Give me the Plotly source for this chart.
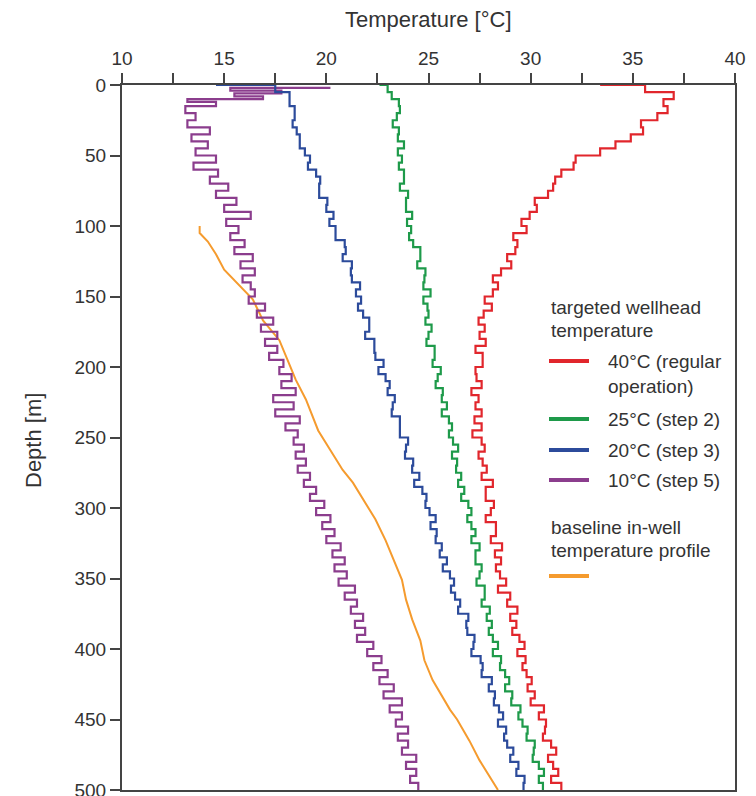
import plotly.graph_objects as go

# ---------------- data ----------------
DEPTH = list(range(0, 505, 5))  # sampling depths [m]

T_40 = [33.4, 35.6, 37.0, 36.5, 36.7, 36.2, 35.4, 35.5, 34.9, 34.15,
        33.4, 32.2, 32.1, 31.5, 31.2, 31.1, 30.85, 30.2, 30.3, 29.95,
        29.55, 29.8, 29.15, 29.35, 29.25, 28.85, 29.05, 28.55, 28.15, 28.4,
        28.15, 27.75, 28.1, 27.7, 27.45, 27.75, 27.5, 27.8, 27.3, 27.65,
        27.65, 27.3, 27.35, 27.6, 27.1, 27.45, 27.3, 27.6, 27.25, 27.6,
        27.15, 27.6, 27.75, 27.45, 27.65, 27.85, 27.6, 28.15, 27.8, 27.8,
        28.2, 28.05, 27.8, 28.3, 28.3, 28.05, 28.6, 28.25, 28.55, 28.3,
        28.5, 28.8, 28.4, 29.0, 28.85, 29.35, 29.0, 29.3, 29.1, 29.45,
        29.7, 29.35, 29.75, 29.6, 29.8, 30.05, 29.85, 30.2, 30.0, 30.65,
        30.4, 30.75, 30.7, 30.6, 31.0, 31.25, 30.85, 31.1, 31.35, 31.0,
        31.5]

T_25 = [22.6, 23.0, 23.2, 23.55, 23.6, 23.45, 23.25, 23.55, 23.5, 23.8,
        23.5, 23.7, 23.55, 23.8, 23.8, 23.6, 24.0, 23.9, 23.9, 24.2,
        23.95, 24.15, 24.05, 24.25, 24.6, 24.6, 24.45, 24.85, 24.8, 24.75,
        25.1, 24.75, 24.95, 25.0, 24.85, 25.15, 25.0, 24.9, 25.3, 25.3,
        25.2, 25.6, 25.45, 25.35, 25.7, 25.65, 25.9, 25.65, 26.0, 26.15,
        26.0, 26.2, 26.45, 26.15, 26.4, 26.35, 26.6, 26.45, 26.75, 26.6,
        26.95, 27.1, 26.9, 27.1, 27.3, 27.1, 27.5, 27.3, 27.3, 27.6,
        27.5, 27.35, 27.75, 27.75, 27.6, 28.0, 27.85, 28.1, 27.95, 28.15,
        28.4, 28.15, 28.55, 28.5, 28.75, 28.95, 28.75, 29.1, 29.05, 29.5,
        29.4, 29.6, 29.85, 29.8, 30.2, 30.15, 30.1, 30.4, 30.65, 30.4,
        30.6]

T_20 = [14.6, 17.5, 18.2, 18.2, 18.45, 18.45, 18.35, 18.55, 18.7, 18.7,
        18.95, 19.2, 19.1, 19.5, 19.7, 19.65, 19.65, 20.05, 20.0, 20.35,
        20.15, 20.45, 20.45, 20.9, 20.95, 20.8, 21.25, 21.2, 21.25, 21.65,
        21.45, 21.7, 21.55, 21.8, 22.1, 22.1, 21.9, 22.35, 22.35, 22.4,
        22.8, 22.55, 22.9, 23.1, 23.0, 23.35, 23.25, 23.2, 23.6, 23.6,
        23.6, 24.0, 23.9, 23.85, 24.25, 24.2, 24.55, 24.3, 24.7, 24.9,
        24.85, 25.05, 25.35, 25.1, 25.4, 25.35, 25.65, 25.55, 25.9, 25.7,
        26.05, 26.25, 26.1, 26.3, 26.55, 26.45, 26.95, 26.85, 26.9, 27.25,
        27.2, 27.1, 27.55, 27.65, 27.6, 28.1, 27.95, 28.25, 28.2, 28.45,
        28.65, 28.4, 28.8, 28.7, 28.85, 29.15, 29.0, 29.4, 29.3, 29.7,
        29.65]

PURPLE_DEPTH = [2, 4, 6, 8, 10, 12] + DEPTH[3:]
T_10 = [20.2, 15.3, 17.8, 15.5, 16.9, 13.2,
        14.6, 13.1, 13.6, 13.2, 14.3, 13.4, 14.2, 13.6, 14.6, 13.5,
        14.7, 14.3, 15.2, 14.6, 15.6, 15.0, 16.3, 15.1, 15.7, 15.3,
        16.0, 15.5, 16.4, 15.8, 16.5, 15.9, 16.3, 16.5, 16.2, 17.0,
        16.6, 17.4, 16.8, 17.6, 17.0, 17.6, 17.2, 17.9, 17.7, 18.3,
        17.8, 18.5, 17.4, 18.4, 17.5, 18.7, 18.0, 18.6, 18.4, 18.9,
        18.5, 19.0, 18.6, 19.2, 18.9, 19.5, 19.2, 19.9, 19.5, 20.2,
        19.8, 20.4, 20.0, 20.7, 20.3, 20.9, 20.4, 21.0, 20.6, 21.4,
        20.9, 21.5, 21.2, 21.8, 21.4, 21.9, 21.5, 22.3, 22.0, 22.7,
        22.3, 23.0, 22.6, 23.3, 22.8, 23.7, 23.1, 23.7, 23.4, 24.0,
        23.5, 24.0, 23.7, 24.4, 23.9, 24.4, 24.1, 24.5]

BASE_DEPTH = [100, 105, 111, 120, 131, 145, 152, 167, 174, 181, 195, 209,
              223, 230, 245, 259, 273, 282, 294, 308, 323, 337, 351, 365,
              379, 394, 408, 422, 432, 443, 450, 465, 479, 493, 500]
T_BASE = [13.8, 13.8, 14.2, 14.6, 15.0, 15.9, 16.4, 16.9, 17.3, 17.7, 18.1, 18.5,
          19.0, 19.2, 19.6, 20.2, 20.8, 21.3, 21.8, 22.4, 22.9, 23.3, 23.7, 23.9,
          24.2, 24.6, 24.8, 25.2, 25.6, 26.05, 26.4, 27.0, 27.5, 28.1, 28.4]

SERIES = [
    ("40°C (regular operation)", T_40, DEPTH, "#e1262c"),
    ("25°C (step 2)", T_25, DEPTH, "#1e9a4a"),
    ("20°C (step 3)", T_20, DEPTH, "#2c4b9b"),
    ("10°C (step 5)", T_10, PURPLE_DEPTH, "#8b3d8d"),
]
BASE_COLOR = "#f59b2e"

X_TICKS = [10, 15, 20, 25, 30, 35, 40]
Y_TICKS = [0, 50, 100, 150, 200, 250, 300, 350, 400, 450, 500]

# ---------------- figure ----------------
W, H = 756, 796
L, R, T, B = 122, 21, 85, 6
PW, PH = W - L - R, H - T - B

def px(xp):
    return (xp - L) / PW

def py(yp):
    return 1 - (yp - T) / PH

FONT = "Liberation Sans, Arial, sans-serif"
TXT = "#333333"
AX = "#444444"

fig = go.Figure()
fig.add_trace(go.Scatter(x=T_BASE, y=BASE_DEPTH, mode="lines",
                         line=dict(color=BASE_COLOR, width=2), showlegend=False))
for name, temps, depths, col in SERIES[::-1]:
    fig.add_trace(go.Scatter(x=temps, y=depths, mode="lines", name=name,
                             line=dict(color=col, width=2.2, shape="hv"),
                             showlegend=False))

fig.update_xaxes(side="top", range=[10, 40], tickvals=X_TICKS, automargin=False,
                 ticks="outside", ticklen=10, tickwidth=1.5, tickcolor=AX,
                 minor=dict(dtick=2.5, ticks="outside", ticklen=10, tickwidth=1.5, tickcolor=AX),
                 showline=True, linecolor=AX, linewidth=2, mirror=True,
                 showgrid=False, zeroline=False,
                 tickfont=dict(family=FONT, size=19, color=TXT))
fig.update_yaxes(range=[500, 0], tickvals=Y_TICKS, automargin=False,
                 ticks="outside", ticklen=10, tickwidth=2, tickcolor=AX,
                 showline=True, linecolor=AX, linewidth=2, mirror=True,
                 showgrid=False, zeroline=False, ticklabeloverflow="allow",
                 tickfont=dict(family=FONT, size=19, color=TXT))

ann = [
    dict(text="Temperature [°C]", x=0.5, y=py(19), xref="paper", yref="paper",
         xanchor="center", yanchor="middle", showarrow=False,
         font=dict(family=FONT, size=22, color=TXT)),
    dict(text="Depth [m]", x=px(34), y=py(441), xref="paper", yref="paper",
         xanchor="center", yanchor="middle", showarrow=False, textangle=-90,
         font=dict(family=FONT, size=22, color=TXT)),
]

LEG_FONT = dict(family=FONT, size=19, color=TXT)
legend_text = [
    ("targeted wellhead", 549, 307),
    ("temperature", 549, 330),
    ("40°C (regular", 606, 361),
    ("operation)", 606, 386),
    ("25°C (step 2)", 606, 419),
    ("20°C (step 3)", 606, 450),
    ("10°C (step 5)", 606, 480),
    ("baseline in-well", 549, 527),
    ("temperature profile", 549, 550),
]
for t, xx, yy in legend_text:
    ann.append(dict(text=t, x=px(xx), y=py(yy), xref="paper", yref="paper",
                    xanchor="left", yanchor="middle", showarrow=False, font=LEG_FONT))

legend_lines = [(SERIES[0][3], 361), (SERIES[1][3], 419), (SERIES[2][3], 450),
                (SERIES[3][3], 480), (BASE_COLOR, 576)]
shapes = []
for col, yy in legend_lines:
    shapes.append(dict(type="line", xref="paper", yref="paper",
                       x0=px(549), x1=px(589), y0=py(yy), y1=py(yy),
                       line=dict(color=col, width=4)))

fig.update_layout(width=W, height=H, margin=dict(l=L, r=R, t=T, b=B, autoexpand=False),
                  paper_bgcolor="white", plot_bgcolor="white",
                  annotations=ann, shapes=shapes, showlegend=False)

fig.write_html("out.html")
